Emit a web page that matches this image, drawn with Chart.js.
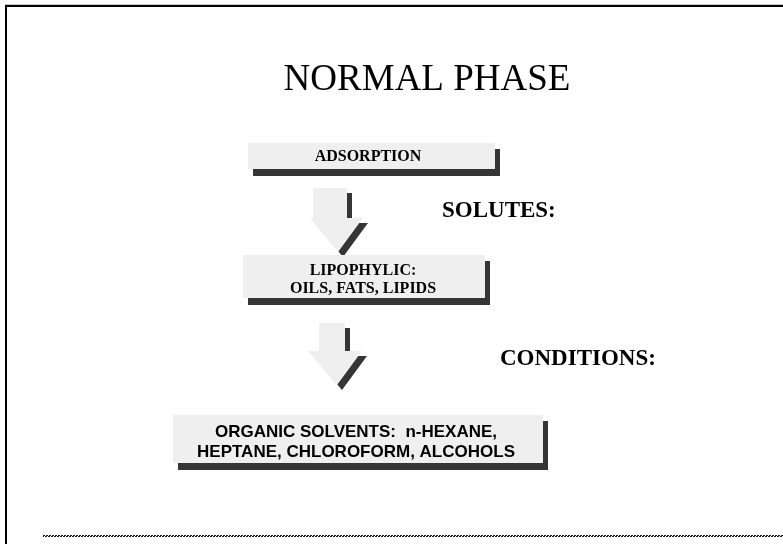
<!DOCTYPE html>
<html>
<head>
<meta charset="utf-8">
<title>Normal phase</title>
<script src="https://cdn.jsdelivr.net/npm/chart.js@4/dist/chart.umd.min.js"></script>
<style>
  html, body { margin: 0; padding: 0; background: #fff; }
  canvas { display: block; }
</style>
</head>
<body>
<canvas id="slide" width="783" height="544"></canvas>
<script>
// textes du schéma
const titleText = 'NORMAL PHASE';
const boxLines = [
    ['ADSORPTION'],
    ['LIPOPHYLIC:', 'OILS, FATS, LIPIDS'],
    ['ORGANIC SOLVENTS:  n-HEXANE,', 'HEPTANE, CHLOROFORM, ALCOHOLS']
];
const sideLabels = ['SOLUTES:', 'CONDITIONS:'];

// mise en page (coordonnées de la diapo, en unités des axes)
const boxRects = [
    { x0: 248, x1: 495, y0: 143, y1: 169, cx: 368, cy: 157, gap: 0,  font: 'bold 16px "Liberation Serif", "Times New Roman", serif' },
    { x0: 243, x1: 485, y0: 255, y1: 298, cx: 363, cy: 271, gap: 18, font: 'bold 16px "Liberation Serif", "Times New Roman", serif' },
    { x0: 173, x1: 543, y0: 415, y1: 463, cx: 356, cy: 432, gap: 20, font: 'bold 17px "Liberation Sans", Arial, sans-serif' }
];
const arrowShapes = [
    { sx0: 313, sx1: 347, top: 188, neck: 218, hx0: 310, hx1: 363, tipX: 338, tipY: 252 },
    { sx0: 319, sx1: 345, top: 323, neck: 351, hx0: 308, hx1: 362, tipX: 337, tipY: 385 }
];
const sidePos = [ { x: 442, y: 217 }, { x: 500, y: 365 } ];

const LIGHT = '#efefef';
const DARK = '#353535';

const slidePlugin = {
    id: 'slide',
    beforeDraw(chart) {
        const ctx = chart.ctx;
        const xs = chart.scales.x, ys = chart.scales.y;
        const px = v => xs.getPixelForValue(v);
        const py = v => ys.getPixelForValue(v);

        ctx.save();
        ctx.fillStyle = '#fff';
        ctx.fillRect(0, 0, chart.width, chart.height);

        // cadre
        ctx.fillStyle = '#c8c8c8';
        ctx.fillRect(px(5), py(4), px(783) - px(5), 1);
        ctx.fillStyle = '#000';
        ctx.fillRect(px(5), py(5), px(783) - px(5), 2);
        ctx.fillRect(px(5), py(5), 2, py(544) - py(5));

        // flèches : ombre puis forme claire
        function arrowPath(a, dx, dy) {
            ctx.beginPath();
            ctx.moveTo(px(a.sx0 + dx), py(a.top + dy));
            ctx.lineTo(px(a.sx1 + dx), py(a.top + dy));
            ctx.lineTo(px(a.sx1 + dx), py(a.neck + dy));
            ctx.lineTo(px(a.hx1 + dx), py(a.neck + dy));
            ctx.lineTo(px(a.tipX + dx), py(a.tipY + dy));
            ctx.lineTo(px(a.hx0 + dx), py(a.neck + dy));
            ctx.lineTo(px(a.sx0 + dx), py(a.neck + dy));
            ctx.closePath();
        }
        arrowShapes.forEach(a => {
            ctx.fillStyle = DARK;
            arrowPath(a, 5, 5);
            ctx.fill();
            ctx.fillStyle = LIGHT;
            arrowPath(a, 0, 0);
            ctx.fill();
        });

        // boîtes avec ombre portée
        boxRects.forEach((b, i) => {
            ctx.fillStyle = DARK;
            ctx.fillRect(px(b.x0 + 5), py(b.y0 + 6), px(b.x1) - px(b.x0), py(b.y1) - py(b.y0) + 1);
            ctx.fillStyle = LIGHT;
            ctx.fillRect(px(b.x0), py(b.y0), px(b.x1) - px(b.x0), py(b.y1) - py(b.y0));

            ctx.fillStyle = '#000';
            ctx.font = b.font;
            ctx.textAlign = 'center';
            ctx.textBaseline = 'middle';
            boxLines[i].forEach((line, k) => {
                ctx.fillText(line, px(b.cx), py(b.cy + k * b.gap));
            });
        });

        // titre
        ctx.fillStyle = '#000';
        ctx.textBaseline = 'alphabetic';
        ctx.textAlign = 'center';
        ctx.font = '37px "Liberation Serif", "Times New Roman", serif';
        ctx.fillText(titleText, px(427), py(90));

        // libellés latéraux
        ctx.textAlign = 'left';
        ctx.font = 'bold 23px "Liberation Serif", "Times New Roman", serif';
        sideLabels.forEach((t, i) => {
            ctx.fillText(t, px(sidePos[i].x), py(sidePos[i].y));
        });

        // ligne pointillée du bas (deux rangées décalées)
        ctx.strokeStyle = '#1a1a1a';
        ctx.lineWidth = 1;
        ctx.setLineDash([2, 1]);
        [535.5, 536.5].forEach((yy, k) => {
            ctx.lineDashOffset = k;
            ctx.beginPath();
            ctx.moveTo(px(43), py(yy));
            ctx.lineTo(px(783), py(yy));
            ctx.stroke();
        });
        ctx.restore();
    }
};

new Chart(document.getElementById('slide').getContext('2d'), {
    type: 'scatter',
    data: { datasets: [{ data: [], pointRadius: 0 }] },
    options: {
        responsive: false,
        animation: false,
        events: [],
        layout: { padding: 0 },
        plugins: { legend: { display: false }, tooltip: { enabled: false }, title: { display: false } },
        scales: {
            x: { type: 'linear', min: 0, max: 783, display: false },
            y: { type: 'linear', min: 0, max: 544, reverse: true, display: false }
        }
    },
    plugins: [slidePlugin]
});
</script>
</body>
</html>
